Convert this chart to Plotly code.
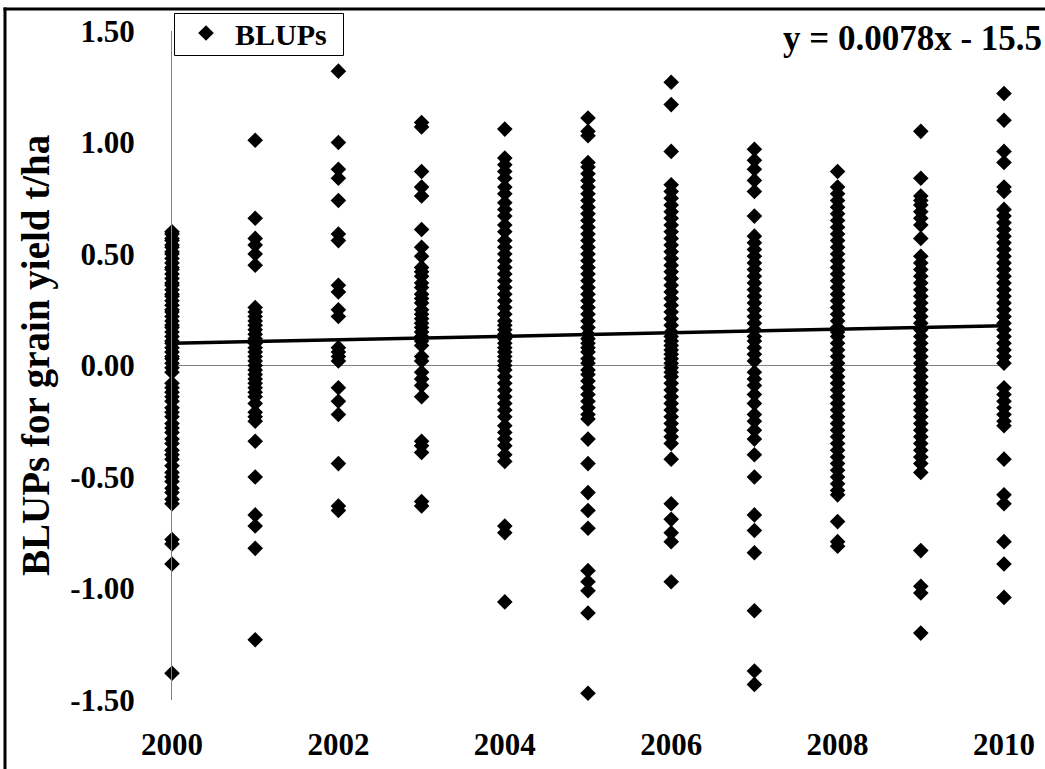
import plotly.graph_objects as go

years = [2000, 2001, 2002, 2003, 2004, 2005, 2006, 2007, 2008, 2009, 2010]

blup_2000 = [0.60, 0.59, 0.57, 0.56, 0.54, 0.53, 0.51, 0.50, 0.48, 0.46, 0.44, 0.43, 0.41, 0.39, 0.37, 0.36,
             0.34, 0.32, 0.31, 0.29, 0.27, 0.25, 0.24, 0.22, 0.20, 0.18, 0.17, 0.15, 0.13, 0.11, 0.10, 0.08,
             0.06, 0.04, 0.03, 0.01, -0.01, -0.03, -0.08, -0.10, -0.12, -0.14, -0.16, -0.19, -0.21, -0.23,
             -0.26, -0.28, -0.30, -0.33, -0.35, -0.38, -0.40, -0.42, -0.45, -0.48, -0.50, -0.52, -0.55,
             -0.57, -0.60, -0.62, -0.78, -0.80, -0.89, -1.38]
blup_2001 = [1.01, 0.66, 0.57, 0.54, 0.50, 0.45, 0.26, 0.24, 0.22, 0.20, 0.18, 0.16, 0.14, 0.12, 0.10, 0.08,
             0.06, 0.04, 0.02, 0.00, -0.02, -0.04, -0.06, -0.08, -0.10, -0.12, -0.14, -0.17, -0.21, -0.23,
             -0.25, -0.34, -0.50, -0.67, -0.72, -0.82, -1.23]
blup_2002 = [1.32, 1.00, 0.88, 0.84, 0.74, 0.59, 0.56, 0.36, 0.33, 0.25, 0.22, 0.08, 0.06, 0.04, 0.02,
             -0.10, -0.16, -0.22, -0.44, -0.63, -0.65]
blup_2003 = [1.09, 1.07, 0.87, 0.80, 0.76, 0.61, 0.53, 0.49, 0.44, 0.42, 0.40, 0.37, 0.35, 0.32, 0.30, 0.28,
             0.25, 0.23, 0.21, 0.19, 0.17, 0.15, 0.13, 0.11, 0.09, 0.04, 0.02, -0.03, -0.06, -0.09, -0.14,
             -0.34, -0.36, -0.39, -0.61, -0.63]
blup_2004 = [1.06, 0.93, 0.90, 0.87, 0.84, 0.80, 0.77, 0.73, 0.70, 0.67, 0.63, 0.60, 0.56, 0.53, 0.50, 0.47,
             0.44, 0.41, 0.38, 0.35, 0.32, 0.29, 0.26, 0.23, 0.20, 0.18, 0.16, 0.14, 0.12, 0.10, 0.08, 0.06,
             0.04, 0.02, 0.00, -0.02, -0.05, -0.08, -0.11, -0.14, -0.17, -0.20, -0.23, -0.27, -0.30, -0.33,
             -0.36, -0.40, -0.43, -0.72, -0.75, -1.06]
blup_2005 = [1.11, 1.05, 1.03, 0.91, 0.89, 0.86, 0.83, 0.80, 0.77, 0.74, 0.71, 0.68, 0.65, 0.62, 0.59, 0.56,
             0.53, 0.50, 0.47, 0.44, 0.41, 0.38, 0.35, 0.32, 0.29, 0.26, 0.23, 0.20, 0.17, 0.14, 0.12, 0.10,
             0.08, 0.06, 0.03, 0.01, -0.02, -0.04, -0.07, -0.10, -0.13, -0.16, -0.19, -0.22, -0.24, -0.33,
             -0.44, -0.57, -0.65, -0.73, -0.92, -0.97, -1.01, -1.11, -1.47]
blup_2006 = [1.27, 1.17, 0.96, 0.81, 0.78, 0.75, 0.72, 0.69, 0.66, 0.63, 0.60, 0.57, 0.54, 0.51, 0.48, 0.45,
             0.42, 0.39, 0.36, 0.33, 0.30, 0.27, 0.24, 0.21, 0.18, 0.15, 0.13, 0.11, 0.09, 0.07, 0.05, 0.03,
             0.01, -0.01, -0.03, -0.05, -0.08, -0.11, -0.14, -0.17, -0.20, -0.23, -0.26, -0.29, -0.32, -0.35,
             -0.42, -0.62, -0.69, -0.75, -0.79, -0.97]
blup_2007 = [0.97, 0.92, 0.88, 0.83, 0.78, 0.67, 0.58, 0.55, 0.52, 0.49, 0.46, 0.43, 0.40, 0.37, 0.34, 0.31,
             0.28, 0.25, 0.22, 0.19, 0.16, 0.13, 0.11, 0.08, 0.05, 0.02, -0.03, -0.06, -0.09, -0.13, -0.17,
             -0.22, -0.25, -0.29, -0.33, -0.40, -0.50, -0.67, -0.74, -0.84, -1.10, -1.37, -1.43]
blup_2008 = [0.87, 0.80, 0.77, 0.74, 0.71, 0.68, 0.65, 0.62, 0.59, 0.56, 0.53, 0.50, 0.47, 0.44, 0.41, 0.38,
             0.35, 0.32, 0.29, 0.26, 0.23, 0.20, 0.17, 0.15, 0.13, 0.10, 0.07, 0.04, 0.01, -0.02, -0.05,
             -0.08, -0.11, -0.14, -0.17, -0.20, -0.23, -0.26, -0.29, -0.32, -0.35, -0.38, -0.41, -0.44,
             -0.47, -0.50, -0.53, -0.56, -0.58, -0.70, -0.79, -0.81]
blup_2009 = [1.05, 0.84, 0.76, 0.74, 0.72, 0.69, 0.66, 0.63, 0.57, 0.49, 0.46, 0.43, 0.40, 0.37, 0.34, 0.31,
             0.28, 0.25, 0.22, 0.19, 0.16, 0.13, 0.10, 0.07, 0.04, 0.01, -0.02, -0.05, -0.08, -0.11, -0.14,
             -0.17, -0.20, -0.23, -0.26, -0.29, -0.32, -0.35, -0.38, -0.41, -0.44, -0.48, -0.83, -0.99,
             -1.02, -1.20]
blup_2010 = [1.22, 1.10, 0.96, 0.91, 0.80, 0.78, 0.70, 0.67, 0.64, 0.61, 0.58, 0.55, 0.52, 0.49, 0.46, 0.43,
             0.40, 0.37, 0.34, 0.31, 0.28, 0.25, 0.22, 0.19, 0.16, 0.13, 0.10, 0.07, 0.04, 0.01, -0.10,
             -0.13, -0.16, -0.19, -0.22, -0.25, -0.27, -0.42, -0.58, -0.62, -0.79, -0.89, -1.04]

blups_by_year = [blup_2000, blup_2001, blup_2002, blup_2003, blup_2004, blup_2005,
                 blup_2006, blup_2007, blup_2008, blup_2009, blup_2010]

trend_slope = 0.0078
trend_intercept = -15.5
trend_label = "y = 0.0078x - 15.5"

y_ticks = [-1.5, -1.0, -0.5, 0.0, 0.5, 1.0, 1.5]
x_ticks = [2000, 2002, 2004, 2006, 2008, 2010]

xs, ys = [], []
for yr, vals in zip(years, blups_by_year):
    xs.extend([yr] * len(vals))
    ys.extend(vals)

trend_x = [years[0], years[-1]]
trend_y = [trend_slope * x + trend_intercept for x in trend_x]

FONT = "Liberation Serif, Times New Roman, serif"

fig = go.Figure()
fig.add_trace(go.Scatter(
    x=xs, y=ys, mode="markers", name="<b>BLUPs</b>",
    marker=dict(symbol="diamond", size=12, color="black", line=dict(width=0)),
    cliponaxis=False,
))
fig.add_trace(go.Scatter(
    x=trend_x, y=trend_y, mode="lines", showlegend=False,
    line=dict(color="black", width=3.5), cliponaxis=False,
))

L, R, T, B = 172, 41, 31, 69
W, H = 1045, 769
pw, ph = W - L - R, H - T - B

def px_x(p):
    return (p - L) / pw

def px_y(p):
    return (H - B - p) / ph

fig.update_layout(
    width=W, height=H,
    margin=dict(l=L, r=R, t=T, b=B, pad=0, autoexpand=False),
    paper_bgcolor="white", plot_bgcolor="white",
    font=dict(family=FONT, color="black", size=30),
    showlegend=True,
    legend=dict(
        x=px_x(177), y=px_y(7), xanchor="left", yanchor="top",
        borderwidth=0, bgcolor="rgba(0,0,0,0)",
        font=dict(family=FONT, size=30, color="black"),
        itemwidth=48,
    ),
    xaxis=dict(
        range=[2000, 2010], tickvals=x_ticks, ticktext=[f"<b>{v}</b>" for v in x_ticks],
        showgrid=False, zeroline=False, showline=False, ticks="", automargin=False,
        ticklabelstandoff=23, tickfont=dict(family=FONT, size=31, color="black"),
    ),
    yaxis=dict(
        range=[-1.5, 1.5], tickvals=y_ticks, ticktext=[f"<b>{v:.2f}</b>" for v in y_ticks],
        showgrid=False, zeroline=True, zerolinecolor="#808080", zerolinewidth=1,
        showline=True, linecolor="#808080", linewidth=1, ticks="", automargin=False,
        ticklabelstandoff=30, tickfont=dict(family=FONT, size=31, color="black"),
    ),
    annotations=[
        dict(text=f"<b>{trend_label}</b>", xref="paper", yref="paper",
             x=px_x(1044), y=px_y(39), xanchor="right", yanchor="middle",
             showarrow=False, font=dict(family=FONT, size=35, color="black")),
        dict(text="<b>BLUPs for grain yield t/ha</b>", xref="paper", yref="paper",
             x=px_x(36), y=px_y(356), xanchor="center", yanchor="middle", textangle=-90,
             showarrow=False, font=dict(family=FONT, size=39, color="black")),
    ],
    shapes=[
        dict(type="rect", xref="paper", yref="paper",
             x0=px_x(174.5), x1=px_x(343.5), y0=px_y(55.5), y1=px_y(13.5),
             line=dict(color="black", width=1), fillcolor="rgba(0,0,0,0)", layer="below"),
        dict(type="line", xref="paper", yref="paper",
             x0=px_x(5), x1=px_x(5), y0=px_y(769), y1=px_y(7.5),
             line=dict(color="black", width=3), layer="above"),
        dict(type="line", xref="paper", yref="paper",
             x0=px_x(3.5), x1=px_x(1045), y0=px_y(9), y1=px_y(9),
             line=dict(color="black", width=3), layer="above"),
    ],
)

fig.write_html(
    "out.html",
    config={"displayModeBar": False},
    post_script="document.body.style.margin='0px';document.body.style.overflow='hidden';",
)
